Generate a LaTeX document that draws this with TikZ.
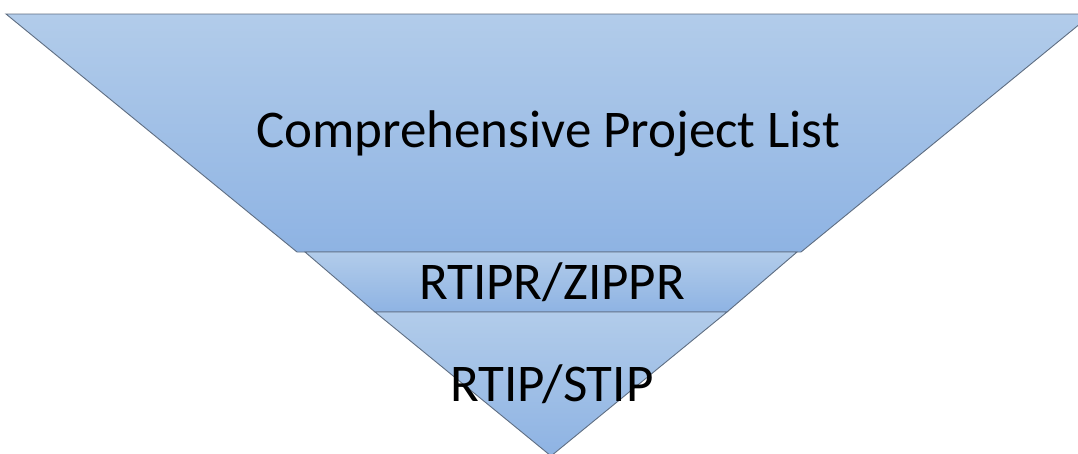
\documentclass[tikz,border=0pt]{standalone}
\usepackage{fontspec}
\setmainfont{Carlito}
\usepackage{tikz}
\usetikzlibrary{positioning, calc}

\definecolor{funneltop}{HTML}{B2CCEA}
\definecolor{funnelbot}{HTML}{8EB3E3}
\definecolor{funnelline}{HTML}{5F6E82}

\tikzset{
  segment/.style={draw=funnelline, line width=0.9pt, line join=miter,
    top color=funneltop, bottom color=funnelbot},
  label/.style={text=black, font=\fontsize{53}{60}\selectfont, inner sep=0pt, anchor=base}
}

\begin{document}
\begin{tikzpicture}[x=1pt,y=-1pt]
        % Frame
        \useasboundingbox (0,0) rectangle (1078,453);
        \clip (0,0) rectangle (1078,453);

        % Top level of the funnel
        \path[segment] (6,14) -- (1092,14) -- (801,252) -- (297,252) -- cycle;

        % Middle level
        \path[segment] (305,252) -- (797,252) -- (727,312) -- (375,312) -- cycle;

        % Bottom tip
        \path[segment] (375,312) -- (727,312) -- (551,456) -- cycle;

        % Level labels
        \node[label] (list) at (548,147) {Comprehensive Project List};
        \node[label] (zippr) at (552,299) {RTIPR/ZIPPR};
        \node[label] (stip) at (552,401) {RTIP/STIP};
\end{tikzpicture}
\end{document}
